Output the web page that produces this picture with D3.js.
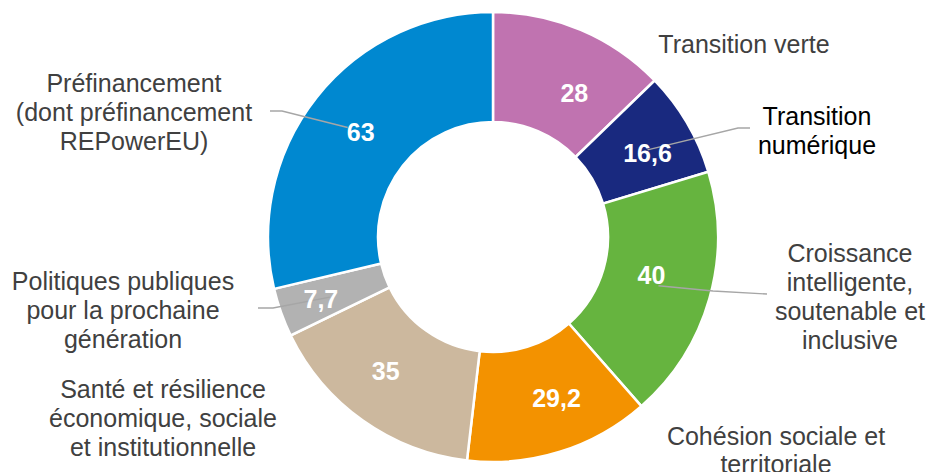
<!DOCTYPE html>
<meta charset="utf-8">
<style>
body { margin: 0; background: #fff; }
.val { fill: #fff; font: bold 25px "Liberation Sans", Arial, sans-serif; text-anchor: middle; }
.lab { fill: #404040; font: 25px "Liberation Sans", Arial, sans-serif; text-anchor: middle; }
.leader { fill: none; stroke: #a6a6a6; stroke-width: 1.4; }
</style>
<svg width="930" height="472"></svg>
<script src="https://cdn.jsdelivr.net/npm/d3@7"></script>
<script>

var categories = [
  "Transition verte",
  "Transition numérique",
  "Croissance intelligente, soutenable et inclusive",
  "Cohésion sociale et territoriale",
  "Santé et résilience économique, sociale et institutionnelle",
  "Politiques publiques pour la prochaine génération",
  "Préfinancement (dont préfinancement REPowerEU)"
];
var values = [28, 16.6, 40, 29.2, 35, 7.7, 63];
var labelLines = [
  ["Transition verte"],
  ["Transition", "numérique"],
  ["Croissance", "intelligente,", "soutenable et", "inclusive"],
  ["Cohésion sociale et", "territoriale"],
  ["Santé et résilience", "économique, sociale", "et institutionnelle"],
  ["Politiques publiques", "pour la prochaine", "génération"],
  ["Préfinancement", "(dont préfinancement", "REPowerEU)"]
];
var colors = ["#c073b0", "#19297f", "#66b43f", "#f39200", "#ccb89e", "#b2b2b2", "#0088d0"];

// layout: x centre and first baseline of each category label
var labelPos = [[744, 53], [817, 125], [850, 262], [776, 445], [163, 398], [123, 290], [134, 92]];
var lineGap = [29, 29, 29, 28, 29, 29, 29];
// value labels are placed on the ring's mid radius, then nudged
var valNudge = [[15, 13], [8, 2], [-5, -9], [13, -1], [-9, -5], [-12, 5], [1, 0]];
var textColor = ["#404040", "#000", "#404040", "#404040", "#404040", "#404040", "#404040"];
// leader lines: start offset from value label centre, elbow point, end point
var leaders = {
  1: [[0, -3], [738, 128], [750, 128]],
  2: [[7, 11], [713, 291], [767, 294]],
  5: [[9, -2], [273, 308], [258, 308]],
  6: [[-13, -4], [282, 111], [270, 111]]
};

var svg = d3.select("svg"),
    cx = 493, cy = 237,
    outerR = 225, innerR = 115;

var g = svg.append("g").attr("transform", "translate(" + cx + "," + cy + ")");

var pie = d3.pie().sort(null).value(function(d) { return d; });
var arcs = pie(values);

var arc = d3.arc().innerRadius(innerR).outerRadius(outerR);
var mid = d3.arc().innerRadius((innerR + outerR) / 2).outerRadius((innerR + outerR) / 2);

g.selectAll(".slice")
  .data(arcs)
  .enter().append("path")
    .attr("class", "slice")
    .attr("d", arc)
    .attr("fill", function(d, i) { return colors[i]; })
    .attr("stroke", "#fff")
    .attr("stroke-width", 2.5);

// value label centres in page coordinates
var valPts = arcs.map(function(d, i) {
  var c = mid.centroid(d);
  return [c[0] + cx + valNudge[i][0], c[1] + cy + valNudge[i][1]];
});

Object.keys(leaders).forEach(function(k) {
  var L = leaders[k], p = valPts[+k];
  var pts = [[p[0] + L[0][0], p[1] + L[0][1]], L[1], L[2]];
  svg.append("polyline")
    .attr("class", "leader")
    .attr("points", pts.map(function(q) { return q.join(","); }).join(" "));
});

svg.selectAll(".val")
  .data(arcs)
  .enter().append("text")
    .attr("class", "val")
    .attr("x", function(d, i) { return valPts[i][0]; })
    .attr("y", function(d, i) { return valPts[i][1] + 9; })
    .text(function(d) { return String(d.data).replace(".", ","); });

labelLines.forEach(function(lines, i) {
  var t = svg.append("text")
    .attr("class", "lab")
    .style("fill", textColor[i])
    .attr("x", labelPos[i][0])
    .attr("y", labelPos[i][1]);
  lines.forEach(function(s, j) {
    t.append("tspan")
      .attr("x", labelPos[i][0])
      .attr("dy", j ? lineGap[i] : 0)
      .text(s);
  });
});

</script>
